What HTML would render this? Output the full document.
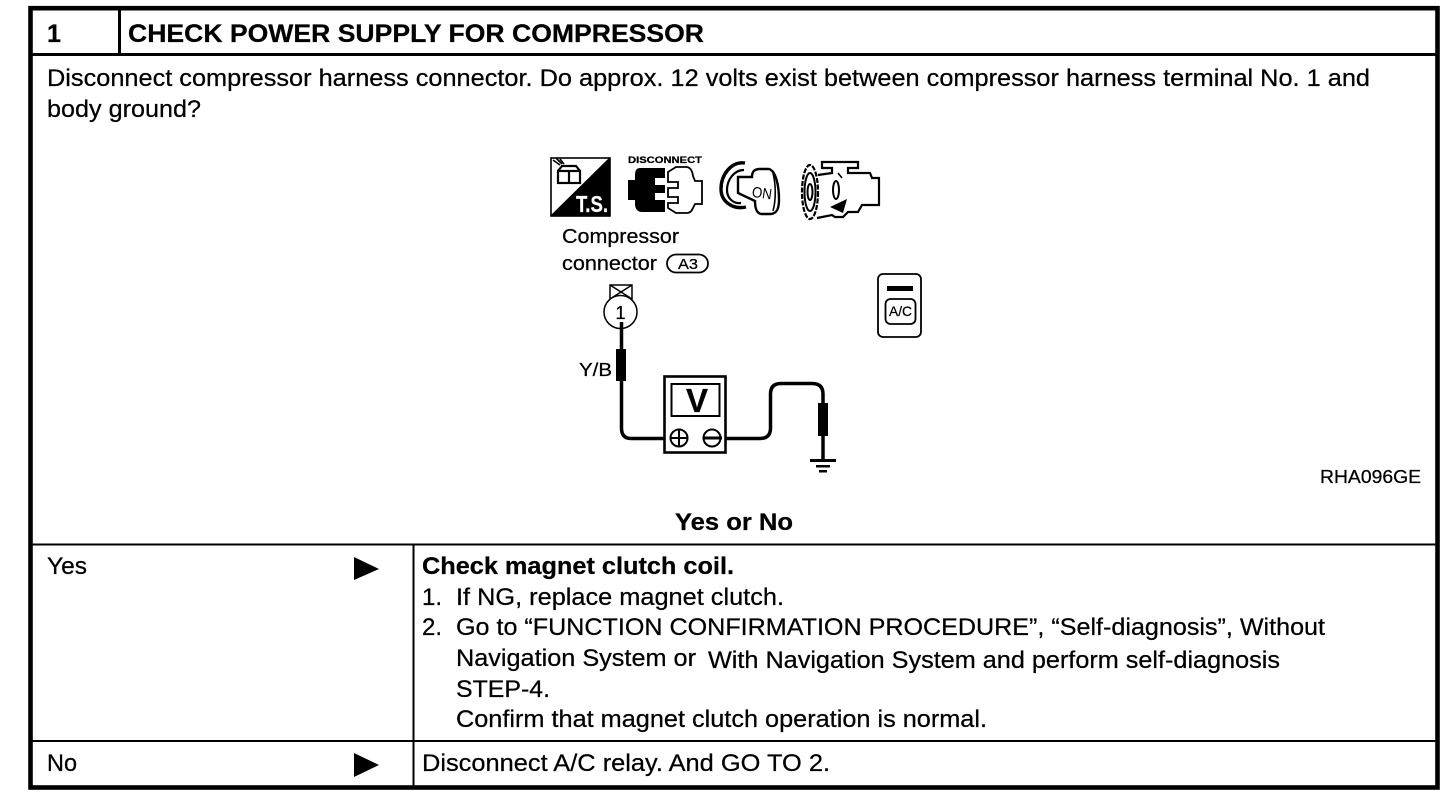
<!DOCTYPE html>
<html>
<head>
<meta charset="utf-8">
<style>
html,body{margin:0;padding:0;background:#fff;width:1456px;height:796px;overflow:hidden}
svg{display:block}
text{font-family:"Liberation Sans",Arial,sans-serif;fill:#000;stroke:#000;stroke-width:.25px}
.b{font-weight:bold}
.t{font-size:24px}
</style>
</head>
<body>
<svg width="1456" height="796" viewBox="0 0 1456 796" xmlns="http://www.w3.org/2000/svg">
<rect width="1456" height="796" fill="#fff"/>
<!-- frame -->
<rect x="30.5" y="8.2" width="1407" height="779.3" fill="none" stroke="#000" stroke-width="4.6"/>
<rect x="30" y="53" width="1408" height="3"/>
<rect x="118" y="8" width="3" height="46"/>
<rect x="30" y="543.5" width="1408" height="2"/>
<rect x="30" y="740" width="1408" height="2"/>
<rect x="412.5" y="544" width="2" height="243"/>

<!-- header -->
<text class="b" x="47" y="42" font-size="25" textLength="14" lengthAdjust="spacingAndGlyphs">1</text>
<text class="b" x="128" y="42" font-size="25" textLength="576" lengthAdjust="spacingAndGlyphs">CHECK POWER SUPPLY FOR COMPRESSOR</text>

<!-- body text -->
<text class="t" x="47" y="86" textLength="1323" lengthAdjust="spacingAndGlyphs">Disconnect compressor harness connector. Do approx. 12 volts exist between compressor harness terminal No. 1 and</text>
<text class="t" x="47" y="117" textLength="154" lengthAdjust="spacingAndGlyphs">body ground?</text>

<!-- T.S. icon -->
<rect x="551" y="158" width="59" height="58" fill="#fff" stroke="#000" stroke-width="1.6"/>
<polygon points="610,157 610,216 550,216"/>
<text class="b" x="576" y="212" font-size="23" style="fill:#fff;stroke:#fff" textLength="32" lengthAdjust="spacingAndGlyphs">T.S.</text>
<g fill="none" stroke="#000" stroke-width="2.2">
<rect x="558" y="171" width="22" height="12"/>
<path d="M569 171V183M558 171l4-5h14l4 5"/>
<path d="M553 160l7 5M556 158l6 6M560 159l4 5" stroke-width="1.6"/>
</g>

<!-- disconnect icon -->
<text class="b" x="628" y="163" font-size="9.5" textLength="74" lengthAdjust="spacingAndGlyphs">DISCONNECT</text>
<path d="M640 168H665V178H655V185H665V193H655V200H665V212H642Q636 212 635 205V200H628V180H635V175Q635 168 640 168Z"/>
<path d="M668 172L676 167H687Q692 168 693 176L695 181H702V204H695L693 208Q691 213 687 213H676L668 208V203H678V197H668V188H678V182H668Z" fill="#fff" stroke="#000" stroke-width="1.8"/>

<!-- key icon -->
<g fill="none" stroke="#000">
<path d="M745 163C731 161 721 175 721 189C721 201 732 210 746 207" stroke-width="3.4"/>
<path d="M744 170C734 170 727 180 727 190C727 198 733 204 741 203" stroke-width="2.2"/>
<path d="M738 177H752C752 172 754 169 760 169H769C776 171 779 186 779 200C779 210 776 214 770 214H761C756 213 755 206 755 201L738 193Z" fill="#fff" stroke-width="2.4"/>
<path d="M773 173C776 185 776 200 773 211" stroke-width="1.6"/>
</g>
<text x="752" y="198" font-size="15" textLength="20" lengthAdjust="spacingAndGlyphs" style="stroke-width:0" transform="rotate(8 761 193)">ON</text>

<!-- compressor icon -->
<g fill="none" stroke="#000">
<ellipse cx="810" cy="192" rx="8" ry="27" stroke-width="2.2" stroke-dasharray="5 1.5"/>
<ellipse cx="810" cy="192" rx="5.5" ry="19" stroke-width="2"/>
<ellipse cx="810" cy="192" rx="2.5" ry="8" stroke-width="2"/>
<path d="M818 175L832 173V168H822V162H858V168H848V173H870L872 178H879V205H862L858 212H848L843 217H835L832 215L817 218" stroke-width="2.2"/>
<ellipse cx="836" cy="190" rx="3" ry="9" stroke-width="2"/>
<path d="M838 173L842 178" stroke-width="1.6"/>
</g>
<path d="M830 207L847 199L843 213Z"/>

<!-- connector label -->
<text x="562" y="243" font-size="20" textLength="117" lengthAdjust="spacingAndGlyphs">Compressor</text>
<text x="562" y="270" font-size="20" textLength="95" lengthAdjust="spacingAndGlyphs">connector</text>
<rect x="667" y="254.5" width="41" height="18" rx="9" fill="#fff" stroke="#000" stroke-width="1.8"/>
<text x="678" y="269" font-size="15" textLength="20" lengthAdjust="spacingAndGlyphs">A3</text>

<!-- terminal -->
<g fill="none" stroke="#000" stroke-width="1.5">
<rect x="610" y="285" width="22" height="14"/>
<path d="M610 285L632 299M632 285L610 299"/>
</g>
<circle cx="620.5" cy="312" r="16.5" fill="#fff" stroke="#000" stroke-width="1.5"/>
<text x="615.5" y="319" font-size="18">1</text>
<text x="579" y="376" font-size="18" textLength="33" lengthAdjust="spacingAndGlyphs">Y/B</text>

<!-- wires -->
<path d="M621.5 322V428Q621.5 438.5 631 438.5H665" fill="none" stroke="#000" stroke-width="3.5"/>
<rect x="616" y="349" width="10" height="32"/>
<path d="M724 438.5H760Q770.5 438.5 770.5 428V394Q770.5 383.5 781 383.5H812Q823 383.5 823 394V460" fill="none" stroke="#000" stroke-width="3.5"/>
<rect x="818" y="403" width="10" height="33"/>
<rect x="810" y="459" width="26" height="3"/>
<rect x="816" y="465" width="14" height="2.5"/>
<rect x="819" y="470" width="8" height="2.5"/>

<!-- meter -->
<rect x="664.5" y="376.5" width="61" height="76" fill="#fff" stroke="#000" stroke-width="2.6"/>
<rect x="671.5" y="384" width="48" height="32" fill="#fff" stroke="#000" stroke-width="2"/>
<text class="b" x="686" y="412" font-size="33" textLength="22" lengthAdjust="spacingAndGlyphs">V</text>
<circle cx="679" cy="438" r="8.5" fill="#fff" stroke="#000" stroke-width="2"/>
<path d="M670 438H688M679 429V447" stroke="#000" stroke-width="2"/>
<circle cx="712" cy="438" r="8.5" fill="#fff" stroke="#000" stroke-width="2"/>
<path d="M704 438H722" stroke="#000" stroke-width="3"/>

<!-- A/C switch -->
<rect x="878" y="274" width="43" height="63" rx="5" fill="#fff" stroke="#000" stroke-width="1.8"/>
<rect x="887" y="286" width="26" height="5"/>
<rect x="885.5" y="299" width="30" height="25" rx="5" fill="#fff" stroke="#000" stroke-width="1.8"/>
<text x="889" y="316" font-size="14" textLength="23" lengthAdjust="spacingAndGlyphs">A/C</text>

<text x="1320" y="483" font-size="18" textLength="101" lengthAdjust="spacingAndGlyphs">RHA096GE</text>
<text class="b t" x="675" y="530" textLength="118" lengthAdjust="spacingAndGlyphs">Yes or No</text>

<!-- yes row -->
<text class="t" x="47" y="574" textLength="40" lengthAdjust="spacingAndGlyphs">Yes</text>
<polygon points="354,557 379,569 354,580"/>
<text class="b t" x="422" y="574" textLength="312" lengthAdjust="spacingAndGlyphs">Check magnet clutch coil.</text>
<text class="t" x="422" y="605">1.</text>
<text class="t" x="456" y="605" textLength="328" lengthAdjust="spacingAndGlyphs">If NG, replace magnet clutch.</text>
<text class="t" x="422" y="635">2.</text>
<text class="t" x="456" y="635" textLength="869" lengthAdjust="spacingAndGlyphs">Go to “FUNCTION CONFIRMATION PROCEDURE”, “Self-diagnosis”, Without</text>
<text class="t" x="456" y="666" textLength="240" lengthAdjust="spacingAndGlyphs">Navigation System or</text>
<text class="t" x="708" y="668" textLength="572" lengthAdjust="spacingAndGlyphs">With Navigation System and perform self-diagnosis</text>
<text class="t" x="456" y="697" textLength="94" lengthAdjust="spacingAndGlyphs">STEP-4.</text>
<text class="t" x="456" y="727" textLength="531" lengthAdjust="spacingAndGlyphs">Confirm that magnet clutch operation is normal.</text>

<!-- no row -->
<text class="t" x="47" y="771" textLength="30" lengthAdjust="spacingAndGlyphs">No</text>
<polygon points="354,753 379,765 354,777"/>
<text class="t" x="422" y="771" textLength="408" lengthAdjust="spacingAndGlyphs">Disconnect A/C relay. And GO TO 2.</text>
</svg>
</body>
</html>
